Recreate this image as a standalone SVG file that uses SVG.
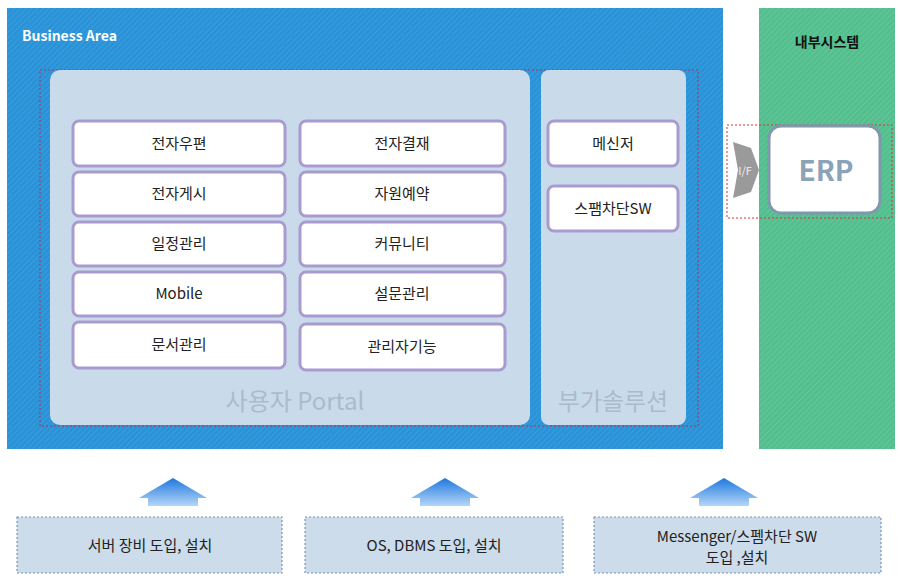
<svg xmlns="http://www.w3.org/2000/svg" width="900" height="580" viewBox="0 0 900 580">
<style>
.k{font-family:"Noto Sans CJK KR","Liberation Sans",sans-serif}
.btn{fill:#fff;stroke:#a99bd0;stroke-width:3}
.bt{font-size:15px;fill:#222;text-anchor:middle}
.bot{fill:#ccdcea;stroke:#7a93b8;stroke-width:1.2;stroke-dasharray:2 2}
.up{fill:url(#ug)}
</style>
<defs>
<pattern id="hb" width="4" height="4" patternUnits="userSpaceOnUse" patternTransform="rotate(45)"><rect width="4" height="4" fill="#2a93d8"/><line x1="0" y1="0" x2="0" y2="4" stroke="#4aa6e2" stroke-width="1"/></pattern>
<pattern id="hg" width="4" height="4" patternUnits="userSpaceOnUse" patternTransform="rotate(45)"><rect width="4" height="4" fill="#53bf8f"/><line x1="0" y1="0" x2="0" y2="4" stroke="#74cda4" stroke-width="1"/></pattern>
<linearGradient id="ug" x1="0" y1="0" x2="0" y2="1"><stop offset="0" stop-color="#1e78e0"/><stop offset="1" stop-color="#b5d6f7"/></linearGradient>
</defs>
<g id="business"><rect x="7" y="8" width="716" height="441" fill="url(#hb)"/>
<text x="22" y="41" class="k" font-size="14" font-weight="bold" fill="#fff">Business Area</text>
<rect x="40" y="70" width="658" height="356" fill="none" stroke="#b0305a" stroke-dasharray="2 2"/></g>
<g id="internal"><rect x="759" y="8" width="136" height="441" fill="url(#hg)"/>
<text x="827" y="47" class="k" font-size="14" font-weight="bold" fill="#111" text-anchor="middle">내부시스템</text></g>
<g id="portal"><rect x="50" y="70" width="480" height="355" rx="10" fill="#c9dbea"/>
<text x="295" y="410" class="k" font-size="24" fill="#a9bccd" text-anchor="middle" font-family="Noto Sans CJK KR,serif">사용자 Portal</text></g>
<g id="addon"><rect x="541" y="70" width="145" height="355" rx="8" fill="#c9dbea"/>
<text x="613" y="410" class="k" font-size="24" fill="#a9bccd" text-anchor="middle">부가솔루션</text></g>
<g id="b1"><rect class="btn" x="73" y="121" width="212" height="45" rx="6"/><text class="k bt" x="179" y="149">전자우편</text></g>
<g id="b2"><rect class="btn" x="73" y="172" width="212" height="44" rx="6"/><text class="k bt" x="179" y="199">전자게시</text></g>
<g id="b3"><rect class="btn" x="73" y="222" width="212" height="44" rx="6"/><text class="k bt" x="179" y="249">일정관리</text></g>
<g id="b4"><rect class="btn" x="73" y="272" width="212" height="44" rx="6"/><text class="k bt" x="179" y="299">Mobile</text></g>
<g id="b5"><rect class="btn" x="73" y="322" width="212" height="46" rx="6"/><text class="k bt" x="179" y="350">문서관리</text></g>
<g id="c1"><rect class="btn" x="300" y="121" width="205" height="45" rx="6"/><text class="k bt" x="402" y="149">전자결재</text></g>
<g id="c2"><rect class="btn" x="300" y="172" width="205" height="44" rx="6"/><text class="k bt" x="402" y="199">자원예약</text></g>
<g id="c3"><rect class="btn" x="300" y="222" width="205" height="44" rx="6"/><text class="k bt" x="402" y="249">커뮤니티</text></g>
<g id="c4"><rect class="btn" x="300" y="272" width="205" height="44" rx="6"/><text class="k bt" x="402" y="299">설문관리</text></g>
<g id="c5"><rect class="btn" x="300" y="324" width="205" height="46" rx="6"/><text class="k bt" x="402" y="352">관리자기능</text></g>
<g id="s1"><rect class="btn" x="548" y="121" width="130" height="45" rx="6"/><text class="k bt" x="613" y="149">메신저</text></g>
<g id="s2"><rect class="btn" x="548" y="186" width="130" height="45" rx="6"/><text class="k bt" x="613" y="214">스팸차단SW</text></g>
<g id="erp"><rect x="727" y="125" width="165" height="93" fill="none" stroke="#e03030" stroke-dasharray="2 2"/>
<rect x="769" y="126" width="111" height="87" rx="12" fill="#fff" stroke="#7f98ad" stroke-width="3"/>
<text x="826" y="181" class="k" font-size="28" font-weight="bold" fill="#8aa3b8" text-anchor="middle">ERP</text></g>
<g id="connectors">
<polygon points="733,142 751,148 759,170 751,192 733,198 738,170" fill="#9a9a9a"/>
<text x="745" y="175" class="k" font-size="11" fill="#eee" text-anchor="middle">I/F</text>
<polygon class="up" points="173,478 207,498 198,498 198,506 148,506 148,498 139,498"/>
<polygon class="up" points="445,478 479,498 470,498 470,506 420,506 420,498 411,498"/>
<polygon class="up" points="724,478 758,498 749,498 749,506 699,506 699,498 690,498"/>
</g>
<g id="d1"><rect class="bot" x="17" y="517" width="265" height="56"/><text class="k bt" x="150" y="551">서버 장비 도입, 설치</text></g>
<g id="d2"><rect class="bot" x="305" y="517" width="258" height="56"/><text class="k bt" x="434" y="551">OS, DBMS 도입, 설치</text></g>
<g id="d3"><rect class="bot" x="594" y="517" width="287" height="56"/><text class="k bt" x="737" y="542">Messenger/스펨차단 SW</text><text class="k bt" x="737" y="563">도입 ,설치</text></g>
</svg>
